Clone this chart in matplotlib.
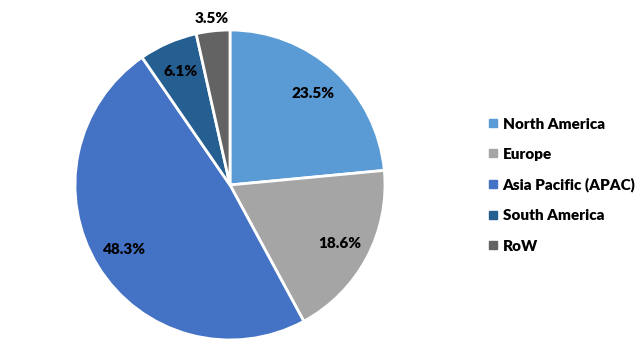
import matplotlib.pyplot as plt
from matplotlib.lines import Line2D

# Market share by region
regions = ["North America", "Europe", "Asia Pacific (APAC)", "South America", "RoW"]
shares = [23.5, 18.6, 48.3, 6.1, 3.5]
colors = ["#5B9BD5", "#A5A5A5", "#4472C4", "#255E91", "#636363"]

plt.rcParams['font.family'] = ['Lato', 'DejaVu Sans']

fig = plt.figure(figsize=(6.42, 3.6), dpi=100)
ax = fig.add_axes([0.1168, 0.0556, 0.4829, 0.8611])

wedges, texts, autotexts = ax.pie(
    shares, colors=colors, startangle=90, counterclock=False,
    autopct="%.1f%%", pctdistance=0.8,
    wedgeprops=dict(edgecolor="white", linewidth=2),
    textprops=dict(fontsize=11, fontweight="heavy", color="black"))

# smallest slice label sits outside the pie
x, y = autotexts[-1].get_position()
r = (x ** 2 + y ** 2) ** 0.5
autotexts[-1].set_position((x / r * 1.08, y / r * 1.08))

ax.set_xlim(-1, 1)
ax.set_ylim(-1, 1)

handles = [Line2D([], [], marker="s", linestyle="", color=c, markersize=6) for c in colors]
fig.legend(handles, regions, loc="center left", bbox_to_anchor=(0.74, 0.486),
           frameon=False, handlelength=0.5, handletextpad=0.4, labelspacing=1.12,
           prop=dict(size=11, weight="heavy"))

fig.savefig("out.png", dpi=100)
